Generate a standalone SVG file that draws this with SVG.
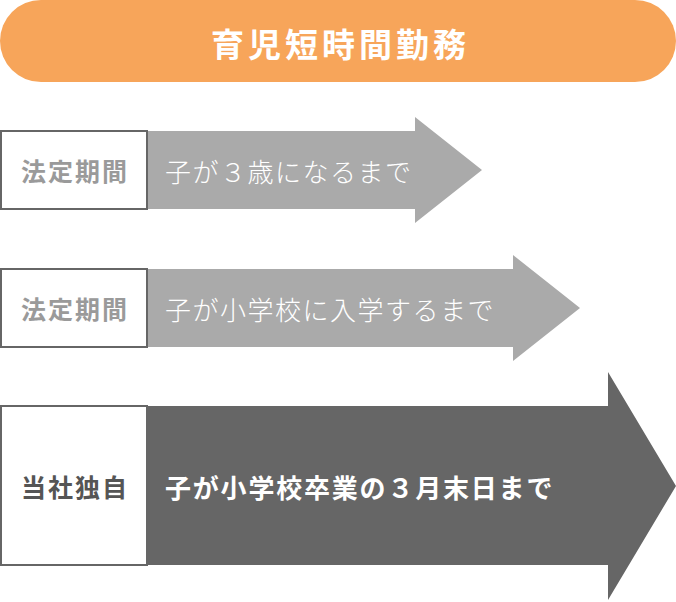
<svg xmlns="http://www.w3.org/2000/svg" width="676" height="602" viewBox="0 0 676 602">
<style>
text{font-family:"Noto Sans CJK JP","Noto Sans",sans-serif}
.lab{font-size:25px;font-weight:700;text-anchor:middle;dominant-baseline:central;letter-spacing:2px}
.arr{font-size:26px;dominant-baseline:central;letter-spacing:1.5px}
.box{fill:#fff;stroke:#666;stroke-width:2}
</style>
<rect width="676" height="602" fill="#fff"/>
<g id="title">
<rect x="0" y="0" width="676" height="82" rx="41" fill="#F7A55A"/>
<text x="340.5" y="43" fill="#fff" style="font-size:33px;font-weight:700;text-anchor:middle;dominant-baseline:central;letter-spacing:4px">育児短時間勤務</text>
</g>
<g id="connectors">
<polygon points="147,131 415,131 415,117 482,170 415,223 415,209 147,209" fill="#AAAAAA"/>
<polygon points="147,269 513,269 513,255 580,308 513,361 513,347 147,347" fill="#AAAAAA"/>
<polygon points="147,406 608,406 608,372 676,486 608,600 608,565 147,565" fill="#666666"/>
</g>
<g id="row1">
<rect class="box" x="1" y="131" width="146" height="78"/>
<text class="lab" x="75" y="170" fill="#9a9a9a">法定期間</text>
<text class="arr" x="165" y="170" fill="#fff" font-weight="300">子が３歳になるまで</text>
</g>
<g id="row2">
<rect class="box" x="1" y="269" width="146" height="78"/>
<text class="lab" x="75" y="308" fill="#9a9a9a">法定期間</text>
<text class="arr" x="165" y="308" fill="#fff" font-weight="300">子が小学校に入学するまで</text>
</g>
<g id="row3">
<rect class="box" x="1" y="406" width="146" height="159"/>
<text class="lab" x="75" y="486" fill="#555">当社独自</text>
<text class="arr" x="165" y="486" fill="#fff" font-weight="700" style="letter-spacing:1.8px">子が小学校卒業の３月末日まで</text>
</g>
</svg>
